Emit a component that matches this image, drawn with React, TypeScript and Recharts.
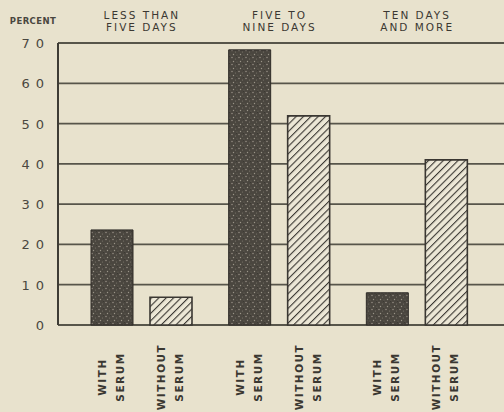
import { BarChart, Bar, XAxis, YAxis, CartesianGrid, LabelList } from "recharts";

// duration of illness groups (top labels)
const categories = ["LESS THAN|FIVE DAYS", "FIVE TO|NINE DAYS", "TEN DAYS|AND MORE"];
// percent values
const withSerum = [23.6, 68.3, 8.0];
const withoutSerum = [6.9, 51.9, 41.0];
const yTicks = [0, 10, 20, 30, 40, 50, 60, 70];

const data = categories.map((c, i) => ({
  period: c,
  withSerum: withSerum[i],
  withoutSerum: withoutSerum[i],
}));

const paper = "#e8e2cd";
const ink = "#3b3832";

const TopTick = (props: any) => {
  const { x, payload } = props;
  const lines = String(payload.value).split("|");
  return (
    <g>
      {lines.map((l, i) => (
        <text
          key={i}
          x={x}
          y={18.5 + i * 12}
          textAnchor="middle"
          fontSize={10.5}
          letterSpacing={2}
          fontFamily="DejaVu Sans"
          fill={ink}
        >
          {l}
        </text>
      ))}
    </g>
  );
};

const LeftTick = (props: any) => {
  const { y, payload } = props;
  return (
    <text
      x={50}
      y={y}
      dy={5}
      textAnchor="end"
      fontSize={13}
      letterSpacing={6}
      fontFamily="DejaVu Sans"
      fill="#4a473f"
    >
      {payload.value}
    </text>
  );
};

const serumLabel = (words: string[]) => (props: any) => {
  const { x, y, width, height } = props;
  const cx = x + width / 2 - 2;
  const cy = y + height + 52;
  return (
    <g transform={`translate(${cx},${cy}) rotate(-90)`}>
      {words.map((w, i) => (
        <text
          key={i}
          x={0}
          y={(i - 0.5) * 18 + 5}
          textAnchor="middle"
          fontSize={10.5}
          fontWeight="bold"
          letterSpacing={1.5}
          fontFamily="DejaVu Sans"
          fill="#3a3731"
        >
          {w}
        </text>
      ))}
    </g>
  );
};

export default function App() {
  return (
    <div
      style={{
        position: "absolute",
        left: 0,
        top: 0,
        width: 504,
        height: 412,
        background: paper,
        overflow: "hidden",
      }}
    >
      <BarChart
        width={504}
        height={412}
        data={data}
        margin={{ top: 0, right: 0, bottom: 87, left: 0 }}
        barSize={42}
        barGap={17}
      >
        <defs>
          <pattern id="stipple" width="7" height="7" patternUnits="userSpaceOnUse">
            <rect width="7" height="7" fill="#4a463f" />
            <circle cx="1" cy="1.5" r="0.8" fill="#8f897e" />
            <circle cx="4.5" cy="3" r="0.6" fill="#7b766c" />
            <circle cx="2.5" cy="5.5" r="0.7" fill="#9a9488" />
            <circle cx="6" cy="6" r="0.5" fill="#6e695f" />
            <circle cx="5.5" cy="0.5" r="0.4" fill="#2c2925" />
          </pattern>
          <pattern
            id="hatch"
            width="5.2"
            height="5.2"
            patternUnits="userSpaceOnUse"
            patternTransform="rotate(45)"
          >
            <rect width="5.2" height="5.2" fill="#ece7d6" />
            <line x1="0" y1="0" x2="0" y2="5.2" stroke="#3a3732" strokeWidth="2.2" />
          </pattern>
        </defs>
        <CartesianGrid vertical={false} stroke="#57554a" strokeWidth={1.8} />
        <XAxis
          dataKey="period"
          orientation="top"
          height={43}
          axisLine={false}
          tickLine={false}
          interval={0}
          padding={{ left: 15, right: 18 }}
          tick={<TopTick />}
        />
        <YAxis
          domain={[0, 70]}
          ticks={yTicks}
          width={58}
          axisLine={{ stroke: "#3e3c35", strokeWidth: 2 }}
          tickLine={false}
          tick={<LeftTick />}
        />
        <Bar
          dataKey="withSerum"
          fill="url(#stipple)"
          stroke="#2e2b27"
          strokeWidth={1}
          isAnimationActive={false}
        >
          <LabelList dataKey="withSerum" content={serumLabel(["WITH", "SERUM"])} />
        </Bar>
        <Bar
          dataKey="withoutSerum"
          fill="url(#hatch)"
          stroke="#3a3732"
          strokeWidth={1.6}
          isAnimationActive={false}
        >
          <LabelList dataKey="withoutSerum" content={serumLabel(["WITHOUT", "SERUM"])} />
        </Bar>
      </BarChart>
      <div
        style={{
          position: "absolute",
          left: 7,
          top: 16,
          width: 52,
          textAlign: "center",
          fontFamily: "DejaVu Sans",
          fontWeight: "bold",
          fontSize: 8.5,
          letterSpacing: 0.4,
          color: "#4a473f",
        }}
      >
        PERCENT
      </div>
    </div>
  );
}
